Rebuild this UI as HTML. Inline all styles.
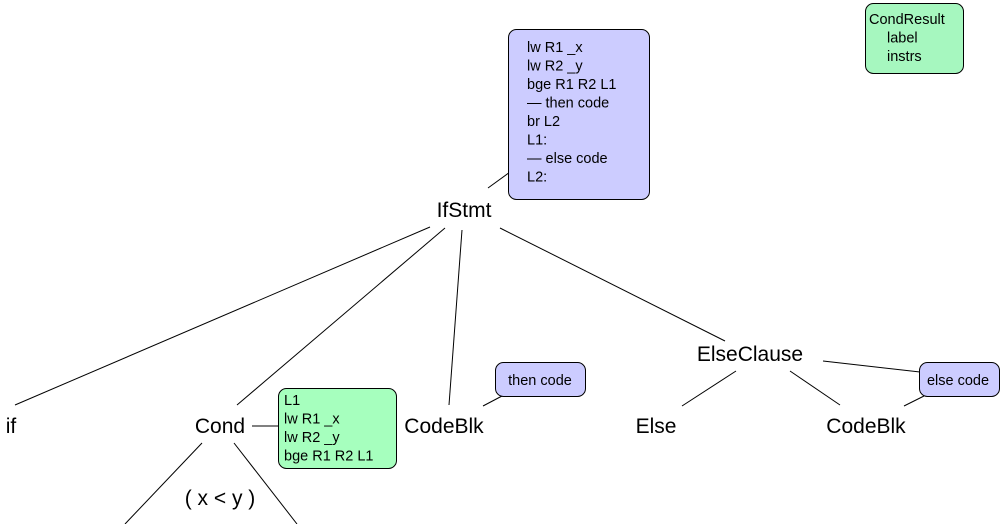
<!DOCTYPE html>
<html><head><meta charset="utf-8"><style>
html,body{margin:0;padding:0;background:#fff;}
svg{display:block;}
text{font-family:"Liberation Sans",Arial,sans-serif;fill:#000;}
.n{font-size:21px;text-anchor:middle;}
.s{font-size:14.5px;}
</style></head><body>
<svg width="1000" height="524" viewBox="0 0 1000 524" xmlns="http://www.w3.org/2000/svg">
<g stroke="#000" stroke-width="1" fill="none">
<line x1="430" y1="227" x2="15" y2="405"/>
<line x1="445" y1="228" x2="237" y2="405"/>
<line x1="462" y1="230" x2="449" y2="405"/>
<line x1="500" y1="228" x2="725" y2="341"/>
<line x1="488" y1="188" x2="521" y2="164"/>
<line x1="736" y1="371" x2="682" y2="406"/>
<line x1="790" y1="371" x2="840" y2="405"/>
<line x1="823" y1="361" x2="920" y2="372"/>
<line x1="904" y1="406" x2="924" y2="396"/>
<line x1="483" y1="406" x2="502" y2="396"/>
<line x1="252" y1="426" x2="279" y2="426"/>
<line x1="202" y1="443" x2="125" y2="524"/>
<line x1="234" y1="443" x2="297" y2="524"/>
</g>
<rect x="508.5" y="29.5" width="141" height="170" rx="8" fill="#ccccff" stroke="#000"/>
<rect x="865.5" y="3.5" width="98" height="70" rx="8" fill="#a6f7bf" stroke="#000"/>
<rect x="278.5" y="388.5" width="118" height="80" rx="8" fill="#a6ffbe" stroke="#000"/>
<rect x="495.5" y="362.5" width="90" height="34" rx="8" fill="#ccccff" stroke="#000"/>
<rect x="919.5" y="362.5" width="80" height="34" rx="8" fill="#ccccff" stroke="#000"/>
<g class="s">
<text x="527" y="52">lw R1 _x</text>
<text x="527" y="70.5">lw R2 _y</text>
<text x="527" y="89">bge R1 R2 L1</text>
<text x="527" y="107.5">— then code</text>
<text x="527" y="126">br L2</text>
<text x="527" y="144.5">L1:</text>
<text x="527" y="163">— else code</text>
<text x="527" y="181.5">L2:</text>
<text x="869" y="24">CondResult</text>
<text x="887" y="42.5">label</text>
<text x="887" y="61">instrs</text>
<text x="284" y="405">L1</text>
<text x="284" y="423.5">lw R1 _x</text>
<text x="284" y="442">lw R2 _y</text>
<text x="284" y="460.5">bge R1 R2 L1</text>
<text x="540" y="385" text-anchor="middle">then code</text>
<text x="958" y="385" text-anchor="middle">else code</text>
</g>
<g class="n">
<text x="464" y="217">IfStmt</text>
<text x="750" y="361">ElseClause</text>
<text x="11" y="433">if</text>
<text x="220" y="433">Cond</text>
<text x="444" y="433">CodeBlk</text>
<text x="656" y="433">Else</text>
<text x="866" y="433">CodeBlk</text>
<text x="220" y="505">( x &lt; y )</text>
</g>
</svg>
</body></html>
